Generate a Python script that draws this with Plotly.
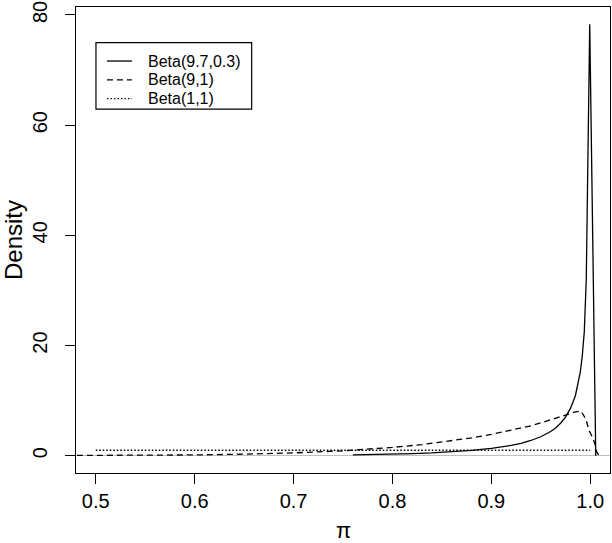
import plotly.graph_objects as go

# Beta(9.7,0.3) density
solid_x = [0.76, 0.78, 0.80, 0.82, 0.84, 0.86, 0.88, 0.90, 0.91, 0.92, 0.93, 0.94,
           0.95, 0.96, 0.965, 0.97, 0.975, 0.98, 0.985, 0.99, 0.992, 0.994, 0.996,
           0.9971, 0.9985, 0.9995, 1.0056]
solid_y = [0.17, 0.22, 0.29, 0.38, 0.51, 0.70, 0.96, 1.33, 1.57, 1.88, 2.26, 2.77,
           3.45, 4.41, 5.05, 5.9, 7.0, 8.6, 10.9, 15.2, 18.2, 22.5, 32.0,
           49.5, 66.0, 78.3, 0.0]

# Beta(9,1) density
dash_x = [0.40, 0.50, 0.55, 0.60, 0.65, 0.70, 0.75, 0.80, 0.83, 0.86, 0.88, 0.90,
          0.92, 0.94, 0.95, 0.96, 0.97, 0.98, 0.985, 0.9905, 0.9955, 0.9988,
          1.0022, 1.0046, 1.0066, 1.0089]
dash_y = [0.006, 0.035, 0.075, 0.15, 0.29, 0.52, 0.90, 1.51, 2.03, 2.69, 3.24, 3.87,
          4.61, 5.44, 5.97, 6.49, 7.05, 7.66, 7.98, 8.13, 6.7, 4.6,
          3.4, 2.2, 0.7, 0.0]

# Beta(1,1) density
dot_x = [0.5, 1.0]
dot_y = [1.0, 1.0]

legend_labels = ["Beta(9.7,0.3)", "Beta(9,1)", "Beta(1,1)"]

x_ticks = [0.5, 0.6, 0.7, 0.8, 0.9, 1.0]
y_ticks = [0, 20, 40, 60, 80]

W, H = 612, 543
L, R, T, B = 76, 1, 3, 70
FONT = "Liberation Sans, Arial, Helvetica, sans-serif"

DASH = "6px,4px"
DOT = "1.5px,2px"


def px(x):  # pixel -> paper
    return (x - L) / (W - L - R)


def py(y):
    return (H - B - y) / (H - T - B)


fig = go.Figure()
fig.add_trace(go.Scatter(x=solid_x, y=solid_y, mode="lines",
                         line=dict(color="black", width=1.3)))
fig.add_trace(go.Scatter(x=dash_x, y=dash_y, mode="lines",
                         line=dict(color="black", width=1.3, dash=DASH)))
fig.add_trace(go.Scatter(x=dot_x, y=dot_y, mode="lines",
                         line=dict(color="black", width=1.3, dash=DOT)))

axis_common = dict(
    showgrid=False,
    showline=True,
    mirror=True,
    linecolor="black",
    linewidth=1.2,
    ticks="outside",
    ticklen=10,
    tickwidth=1.2,
    tickcolor="black",
    ticklabeloverflow="allow",
    tickfont=dict(family=FONT, size=20, color="black"),
)

fig.update_xaxes(range=[0.48, 1.02], tickvals=x_ticks, tickformat=".1f",
                 zeroline=False, **axis_common)
fig.update_yaxes(range=[-3.13, 81.44], tickvals=y_ticks, tickangle=-90,
                 ticklabelstandoff=10,
                 zeroline=True, zerolinecolor="#bebebe", zerolinewidth=1.2,
                 **axis_common)

# legend box, drawn like R's legend()
shapes = [dict(type="rect", xref="paper", yref="paper",
               x0=px(96), x1=px(252), y0=py(39), y1=py(106),
               line=dict(color="black", width=1.2), fillcolor="white", layer="above")]
annotations = []
rows = [57.5, 76.5, 95.5]
styles = ["solid", DASH, DOT]
for lab, ry, st in zip(legend_labels, rows, styles):
    shapes.append(dict(type="line", xref="paper", yref="paper",
                       x0=px(107), x1=px(132), y0=py(ry), y1=py(ry),
                       line=dict(color="black", width=1.3, dash=st), layer="above"))
    annotations.append(dict(text=lab, xref="paper", yref="paper",
                            x=px(146), y=py(ry), xanchor="left", yanchor="middle",
                            showarrow=False,
                            font=dict(family=FONT, size=16, color="black")))

# axis titles
annotations.append(dict(text="π", xref="paper", yref="paper", x=0.5, y=0,
                        xanchor="center", yanchor="middle", yshift=-57,
                        showarrow=False, font=dict(family=FONT, size=22, color="black")))
annotations.append(dict(text="Density", xref="paper", yref="paper", x=0, y=0.5,
                        xanchor="center", yanchor="middle", xshift=-63, textangle=-90,
                        showarrow=False, font=dict(family=FONT, size=24, color="black")))

fig.update_layout(
    width=W,
    height=H,
    margin=dict(l=L, r=R, t=T, b=B, pad=0),
    plot_bgcolor="white",
    paper_bgcolor="white",
    showlegend=False,
    shapes=shapes,
    annotations=annotations,
)

fig.write_html("out.html", config={"displayModeBar": False},
               post_script="document.body.style.margin='0px';")
